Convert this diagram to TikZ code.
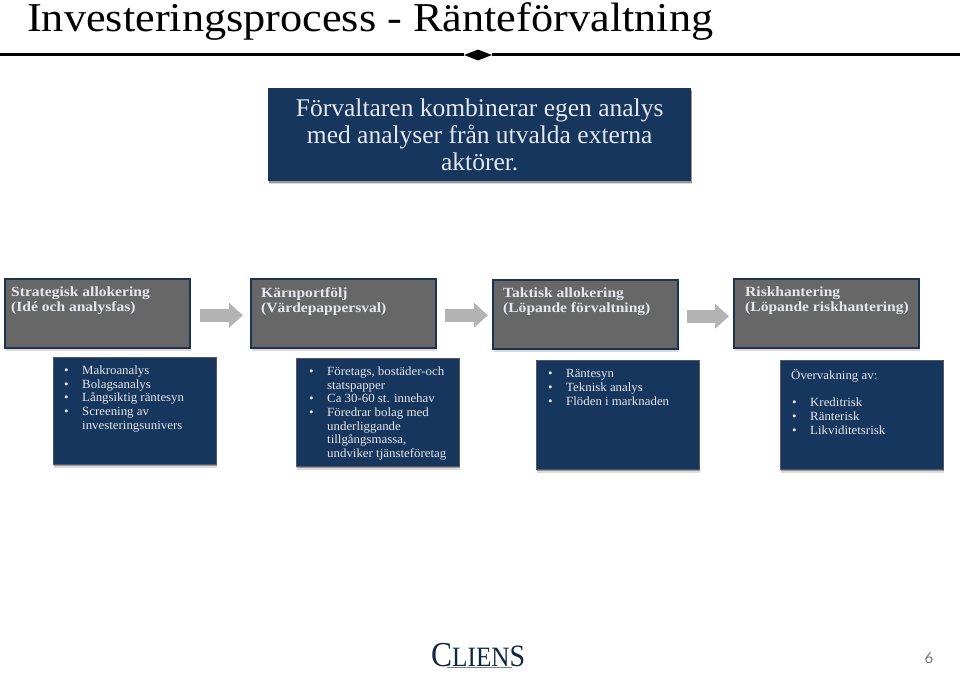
\documentclass[tikz,border=0pt]{standalone}
\usepackage{fontspec}
\setmainfont{Liberation Serif}
\newfontfamily\listf[FakeStretch=1.03]{Liberation Serif}
\newfontfamily\headf[FakeStretch=1.11]{Liberation Serif}
\newfontfamily\titlef[FakeStretch=1.08]{Liberation Serif}
\newfontfamily\introf{Liberation Serif}
\newfontfamily\logof[FakeStretch=.9]{Liberation Serif}
\newfontfamily\numf{Lato}
\usetikzlibrary{shapes.geometric,arrows.meta,calc}
\definecolor{navy}{HTML}{17365D}
\definecolor{edgeblue}{HTML}{1B3250}
\definecolor{slate}{HTML}{676767}
\definecolor{lighttxt}{HTML}{E4E8EE}
\definecolor{arrowgray}{HTML}{B3B3B3}
\newcommand{\bl}[1]{\makebox[19pt][l]{\hspace{1pt}•}#1}
\newcommand{\cont}[1]{\hspace{19pt}#1}
\tikzset{
  x=1pt,y=-1pt,
  softshadow/.style={preaction={draw=none,fill=black,fill opacity=.14,transform canvas={xshift=.8pt,yshift=-3pt}},
                     preaction={draw=none,fill=black,fill opacity=.30,transform canvas={xshift=.5pt,yshift=-1.6pt}}},
  graybox/.style={softshadow,draw=edgeblue,line width=1.5pt,fill=slate,minimum width=185pt,minimum height=69pt,inner sep=0pt,anchor=north west},
  bluebox/.style={softshadow,draw=slate!70!navy,line width=1pt,fill=navy,minimum width=163pt,anchor=north west,inner sep=0pt},
  headtxt/.style={anchor=north west,align=left,inner sep=0pt,text=lighttxt,font=\headf\bfseries\fontsize{14}{15}\selectfont},
  listtxt/.style={anchor=north west,align=left,inner sep=0pt,text=lighttxt,font=\listf\fontsize{12.5}{13.7}\selectfont},
  flow/.style={draw=arrowgray,line width=13pt,-{Triangle[length=14pt,width=24pt,fill=arrowgray]}},
}
\begin{document}
\begin{tikzpicture}
\useasboundingbox (0,0) rectangle (960,674);
\node[anchor=base west,inner sep=0pt,font=\titlef\fontsize{41}{44}\selectfont,text=black] (title) at (27,32) {Investeringsprocess - Ränteförvaltning};
\node[diamond,fill=black,minimum width=28pt,minimum height=11pt,inner sep=0pt] (dia) at (478,55) {};
\coordinate (ruleL) at (0,55);
\coordinate (ruleR) at (960,55);
\draw[line width=3pt,black] (ruleL) -- (dia) -- (ruleR);
% intro
\node[softshadow,fill=navy,minimum width=423pt,minimum height=93pt,inner sep=0pt,anchor=north west,
      text=lighttxt,align=center,font=\introf\fontsize{25.5}{27}\selectfont] (intro) at (268,88)
  {\parbox{423pt}{\centering Förvaltaren kombinerar egen analys\\ med analyser från utvalda externa\\ aktörer.}};
% gray
\node[graybox] (g1) at (4,278) {};
\node[graybox] (g2) at (250,278) {};
\node[graybox] (g3) at (492,279) {};
\node[graybox] (g4) at (733,278) {};
\node[headtxt] (h1) at (11,287) {Strategisk allokering\\(Idé och analysfas)};
\node[headtxt] (h2) at (261,287) {Kärnportfölj\\(Värdepappersval)};
\node[headtxt] (h3) at (503,288) {Taktisk allokering\\(Löpande förvaltning)};
\node[headtxt] (h4) at (745,287) {Riskhantering\\(Löpande riskhantering)};
% arrows
\draw[flow,shorten <=9pt,shorten >=7pt] ([yshift=-2pt]g1.east) -- ([yshift=-2pt]g2.west);
\draw[flow,shorten <=8pt,shorten >=4pt] ([yshift=-2pt]g2.east) -- ([yshift=-2pt]g2.east -| g3.west);
\draw[flow,shorten <=8pt,shorten >=4pt] ([yshift=-2pt]g3.east) -- ([yshift=-2pt]g3.east -| g4.west);
% blue
\node[bluebox,minimum height=107pt] (b1) at (53,357) {};
\node[bluebox,minimum height=108pt] (b2) at (296,358) {};
\node[bluebox,minimum height=109pt] (b3) at (536,360) {};
\node[bluebox,minimum height=109pt] (b4) at (780,360) {};
\node[listtxt] (l1) at (63,365.5) {\bl{Makroanalys}\\\bl{Bolagsanalys}\\\bl{Långsiktig räntesyn}\\\bl{Screening av}\\\cont{investeringsunivers}};
\node[listtxt] (l2) at (308,366.5) {\bl{Företags, bostäder-och}\\\cont{statspapper}\\\bl{Ca 30-60 st. innehav}\\\bl{Föredrar bolag med}\\\cont{underliggande}\\\cont{tillgångsmassa,}\\\cont{undviker tjänsteföretag}};
\node[listtxt] (l3) at (547,369.5) {\bl{Räntesyn}\\\bl{Teknisk analys}\\\bl{Flöden i marknaden}};
\node[listtxt] (l4) at (791,369) {Övervakning av:\\[13.7pt]\bl{Kreditrisk}\\\bl{Ränterisk}\\\bl{Likviditetsrisk}};
% footer
\node[inner sep=0pt,anchor=base west,text=navy!70!black,font=\logof\fontsize{28}{28}\selectfont] (logo) at (431,666) {{\fontsize{35}{35}\selectfont C}LIEN{\fontsize{31}{31}\selectfont S}};
\coordinate (logoL) at (447,667);
\coordinate (logoR) at (512,667);
\draw[line width=.6pt,black!50] (logoL) -- (logoR);
\node[inner sep=0pt,text=black!55,font=\numf\fontsize{15}{15}\selectfont] (pg) at (929,658) {6};
\end{tikzpicture}
\end{document}
